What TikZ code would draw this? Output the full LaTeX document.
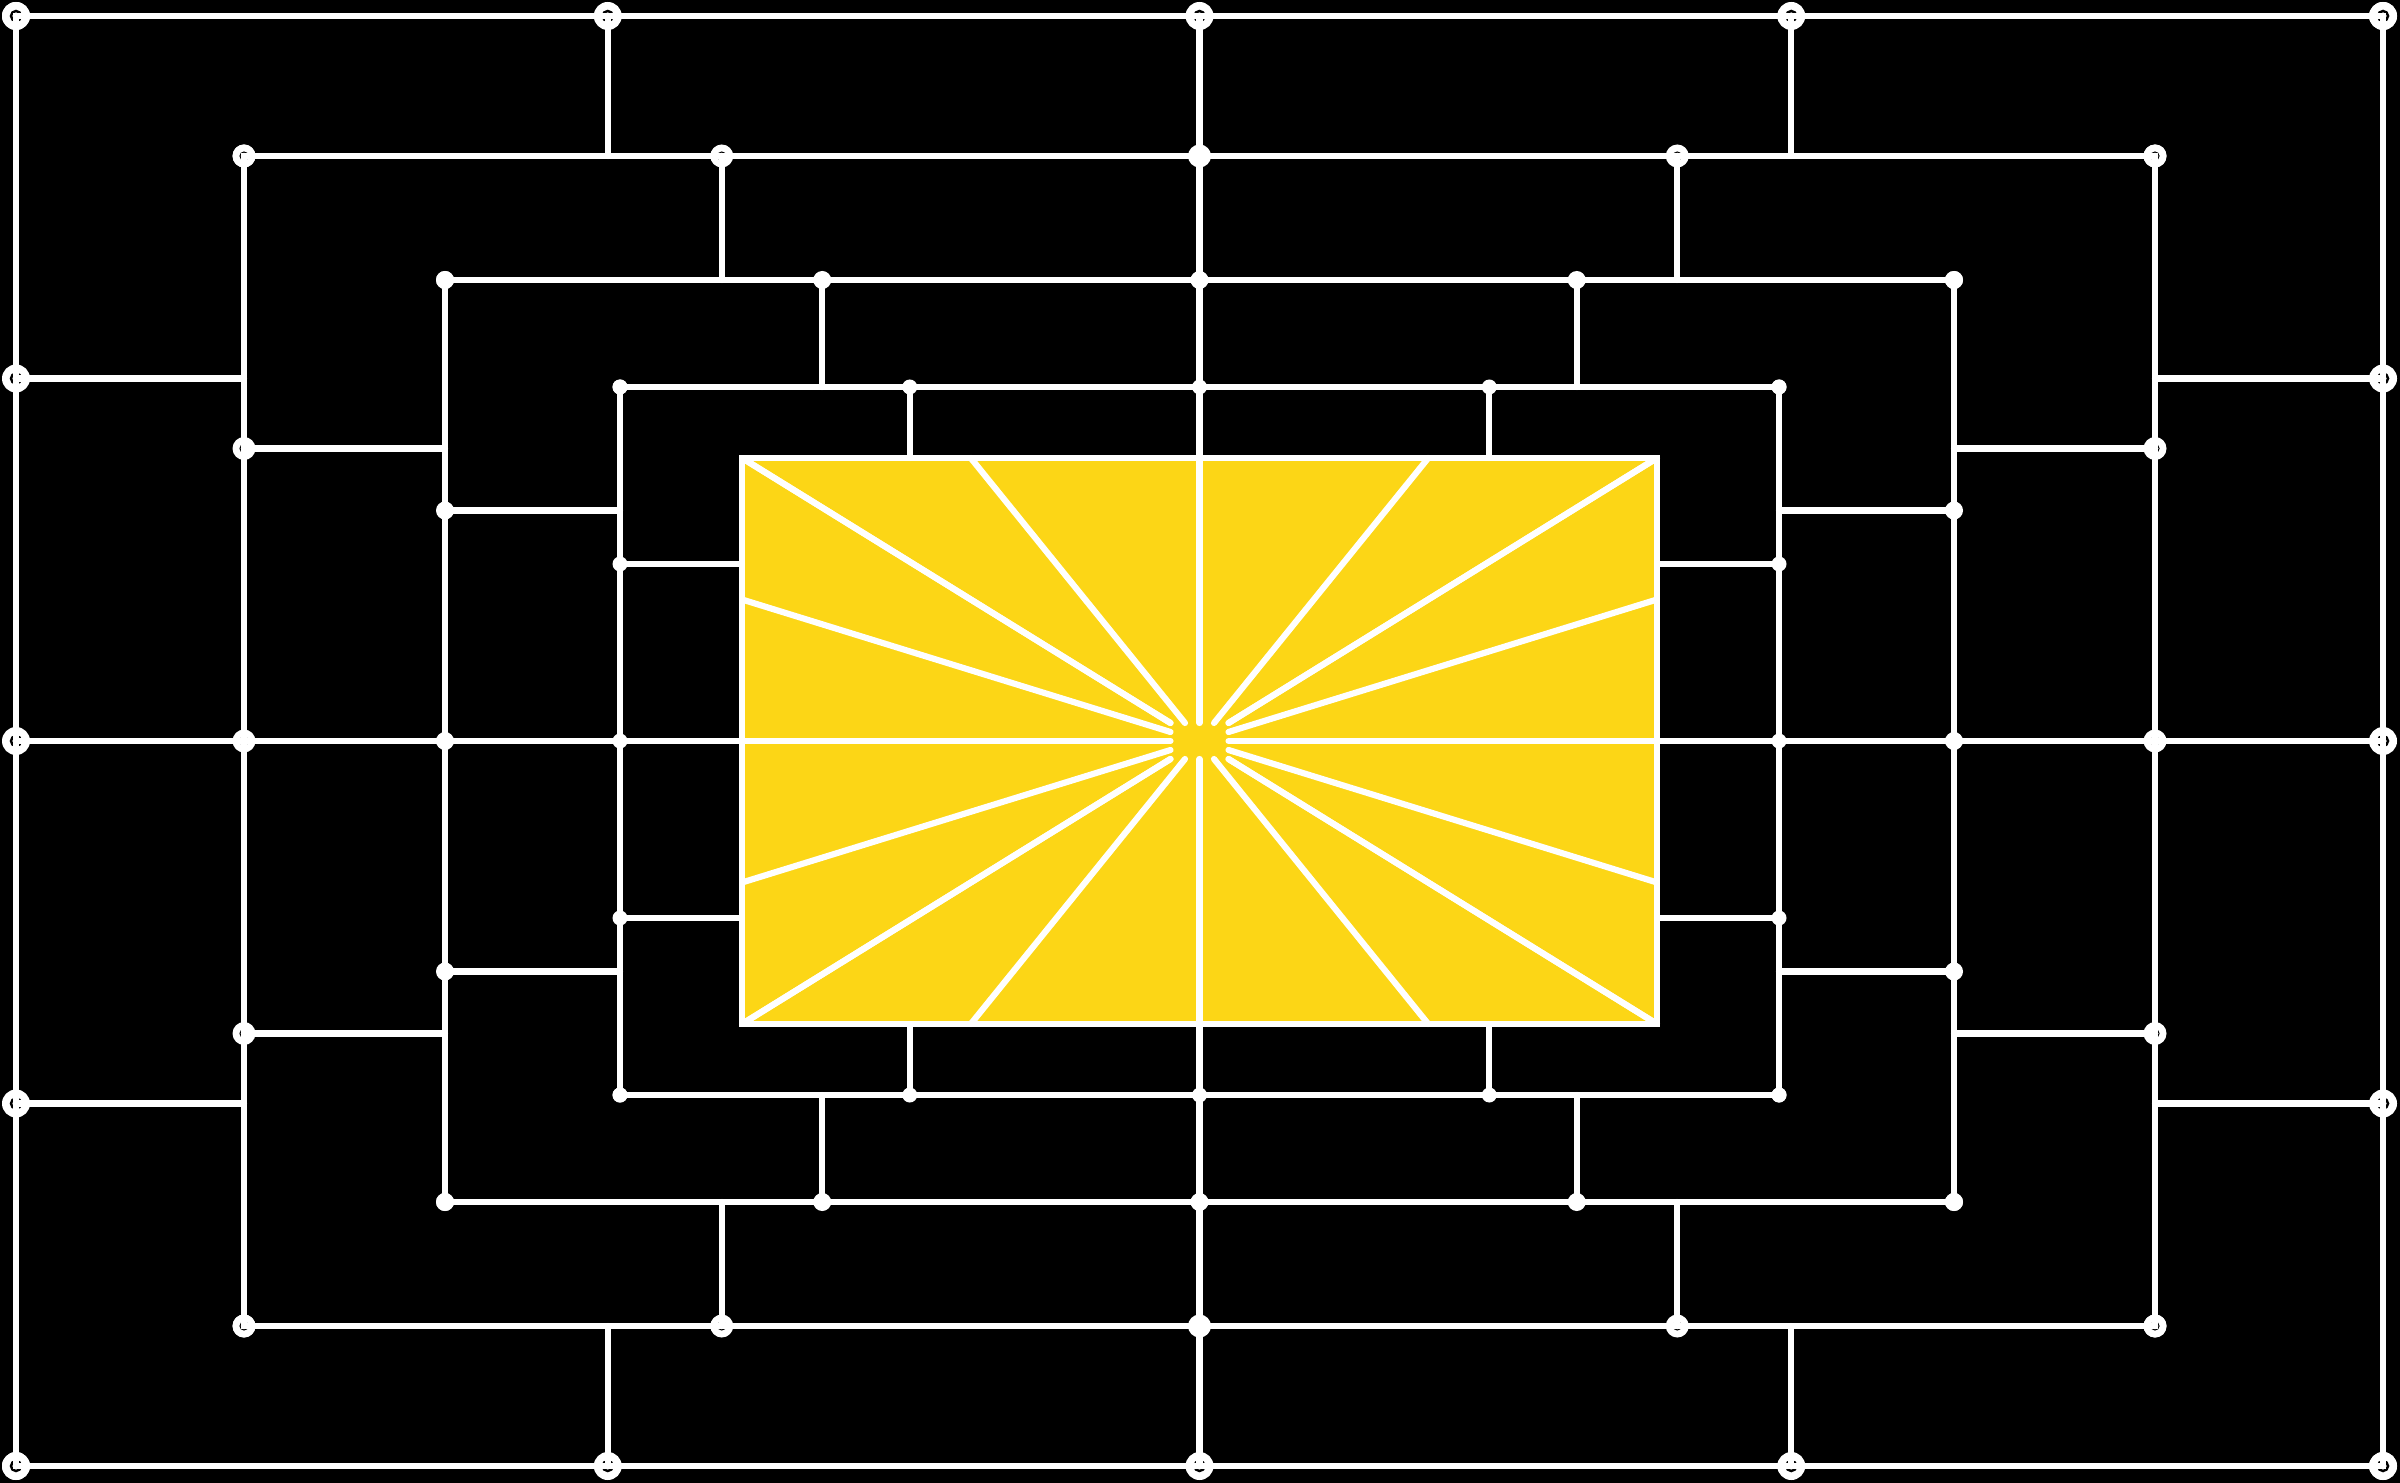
\documentclass[tikz,border=0pt]{standalone}
\definecolor{sunyellow}{HTML}{FCD616}
\tikzset{
  wire/.style={draw=white,line width=1.75pt,line cap=round},
  bigdot/.style={fill=white},
  dotring/.style={draw=black}
}
\begin{document}
\begin{tikzpicture}[x=0.1mm,y=-0.1mm]
  \fill[black] (0,0) rectangle (2400,1483);
  % nested frames: name/half width/half height
  \foreach \n/\w/\h in {L0/1183.5/725, L1/955.5/585, L2/754.5/461, L3/579.5/354, sun/457.5/283, core/29/18}{
    \foreach \i in {0,...,4}{
      \coordinate (\n-t\i) at ({1199.5-\w+\i*\w/2},{741-\h});
      \coordinate (\n-b\i) at ({1199.5-\w+\i*\w/2},{741+\h});
      \coordinate (\n-l\i) at ({1199.5-\w},{741-\h+\i*\h/2});
      \coordinate (\n-r\i) at ({1199.5+\w},{741-\h+\i*\h/2});
    }
  }
  \fill[sunyellow] (sun-t0) rectangle (sun-b4);
  % node markers
  \foreach \s in {t,b,l,r}{
    \foreach \i in {0,...,4}{
      \fill[bigdot] (L0-\s\i) circle (1.4mm);
      \draw[dotring,line width=0.7pt] (L0-\s\i) circle (0.5mm);
      \fill[bigdot] (L1-\s\i) circle (1.15mm);
      \draw[dotring,line width=0.3pt] (L1-\s\i) circle (0.4mm);
      \fill[bigdot] (L2-\s\i) circle (0.9mm);
      \fill[bigdot] (L3-\s\i) circle (0.75mm);
    }
  }
  % frames
  \foreach \n in {L0,L1,L2,L3,sun}
    \draw[wire] (\n-t0) rectangle (\n-b4);
  % links between frames
  \foreach \n/\m in {L0/L1,L1/L2,L2/L3,L3/sun}{
    \foreach \i in {1,2,3}{
      \draw[wire] (\n-t\i) -- (\n-t\i |- \m-t0);
      \draw[wire] (\n-b\i) -- (\n-b\i |- \m-b0);
      \draw[wire] (\n-l\i) -- (\n-l\i -| \m-l0);
      \draw[wire] (\n-r\i) -- (\n-r\i -| \m-r0);
    }
  }
  % rays
  \foreach \s in {t,b,l,r}
    \foreach \i in {0,...,4}
      \draw[wire] (core-\s\i) -- (sun-\s\i);
\end{tikzpicture}
\end{document}
